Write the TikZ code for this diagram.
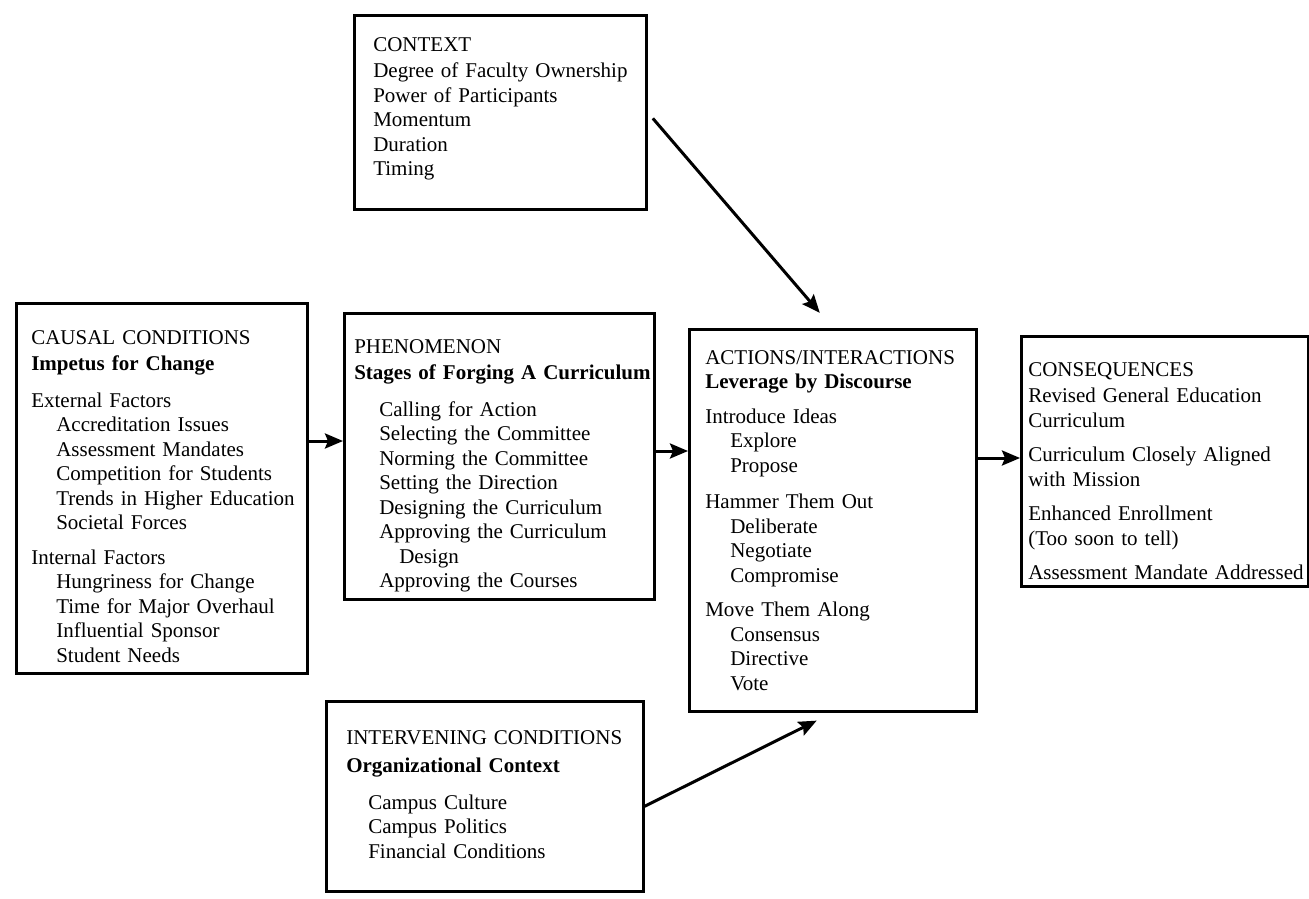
\documentclass[tikz,border=0pt]{standalone}
\usepackage{fontspec}
\setmainfont{Liberation Serif}
\usetikzlibrary{arrows.meta}
\newcommand{\indnt}{\hspace*{12.5pt}}
\newcommand{\panelrows}[1]{\begin{tabular}[t]{@{}l@{}}#1\end{tabular}}

\begin{document}
\begin{tikzpicture}[x=0.5pt,y=-0.5pt,>={Stealth[length=9pt,width=7.5pt,inset=1.5pt]}]
  \tikzstyle{panel}=[draw,line width=1.3pt,anchor=north west,inner ysep=0pt,font=\fontsize{10.5pt}{12.25pt}\selectfont]
  \tikzstyle{link}=[->,line width=1.5pt]
  \useasboundingbox (0,0) rectangle (1309,898);

    \node [panel,inner xsep=9.5pt,text width=127pt,text height=18pt,text depth=79pt] (context) at (353,14)
        {\panelrows{CONTEXT\\[1pt]
         Degree of Faculty Ownership\\
         Power of Participants\\
         Momentum\\
         Duration\\
         Timing}};

    \node [panel,inner xsep=7.5pt,text width=130.5pt,text height=20.5pt,text depth=164.5pt] (causal) at (15,302)
        {\panelrows{CAUSAL CONDITIONS\\[1pt]
         \textbf{Impetus for Change}\\[6pt]
         External Factors\\
         \indnt Accreditation Issues\\
         \indnt Assessment Mandates\\
         \indnt Competition for Students\\
         \indnt Trends in Higher Education\\
         \indnt Societal Forces\\[5pt]
         Internal Factors\\
         \indnt Hungriness for Change\\
         \indnt Time for Major Overhaul\\
         \indnt Influential Sponsor\\
         \indnt Student Needs}};

    \node [panel,inner xsep=5pt,text width=145pt,text height=20pt,text depth=123pt] (phen) at (343,312)
        {\panelrows{PHENOMENON\\[1pt]
         \textbf{Stages of Forging A Curriculum}\\[6pt]
         \indnt Calling for Action\\
         \indnt Selecting the Committee\\
         \indnt Norming the Committee\\
         \indnt Setting the Direction\\
         \indnt Designing the Curriculum\\
         \indnt Approving the Curriculum\\
         \hspace*{22.5pt}Design\\
         \indnt Approving the Courses}};

    \node [panel,inner xsep=8pt,text width=127.5pt,text height=17.5pt,text depth=173.5pt] (actions) at (688,328)
        {\panelrows{ACTIONS/INTERACTIONS\\
         \textbf{Leverage by Discourse}\\[5pt]
         Introduce Ideas\\
         \indnt Explore\\
         \indnt Propose\\[6pt]
         Hammer Them Out\\
         \indnt Deliberate\\
         \indnt Negotiate\\
         \indnt Compromise\\[5pt]
         Move Them Along\\
         \indnt Consensus\\
         \indnt Directive\\
         \indnt Vote}};

    \node [panel,inner xsep=3.5pt,text width=136.5pt,text height=20pt,text depth=105pt] (conseq) at (1020,335)
        {\panelrows{CONSEQUENCES\\[1pt]
         Revised General Education\\
         Curriculum\\[5pt]
         Curriculum Closely Aligned\\
         with Mission\\[5pt]
         Enhanced Enrollment\\
         (Too soon to tell)\\[5pt]
         Assessment Mandate Addressed}};

    \node [panel,inner xsep=10pt,text width=138.5pt,text height=21.5pt,text depth=73.5pt] (interv) at (325,700)
        {\panelrows{INTERVENING CONDITIONS\\[2pt]
         \textbf{Organizational Context}\\[6pt]
         \hspace*{11pt}Campus Culture\\
         \hspace*{11pt}Campus Politics\\
         \hspace*{11pt}Financial Conditions}};

    % links between the panels
    \draw [link] (causal.east |- 0,441) -- (phen.west |- 0,441);
    \draw [link] (phen.east |- 0,451) -- (actions.west |- 0,451);
    \draw [link] (actions.east |- 0,458) -- (conseq.west |- 0,458);
    \draw [link,shorten <=4pt,shorten >=10pt] (context.east) -- (actions.north);
    \draw [link,shorten >=9pt] ([yshift=-5pt]interv.east) -- (actions.south);
\end{tikzpicture}
\end{document}
